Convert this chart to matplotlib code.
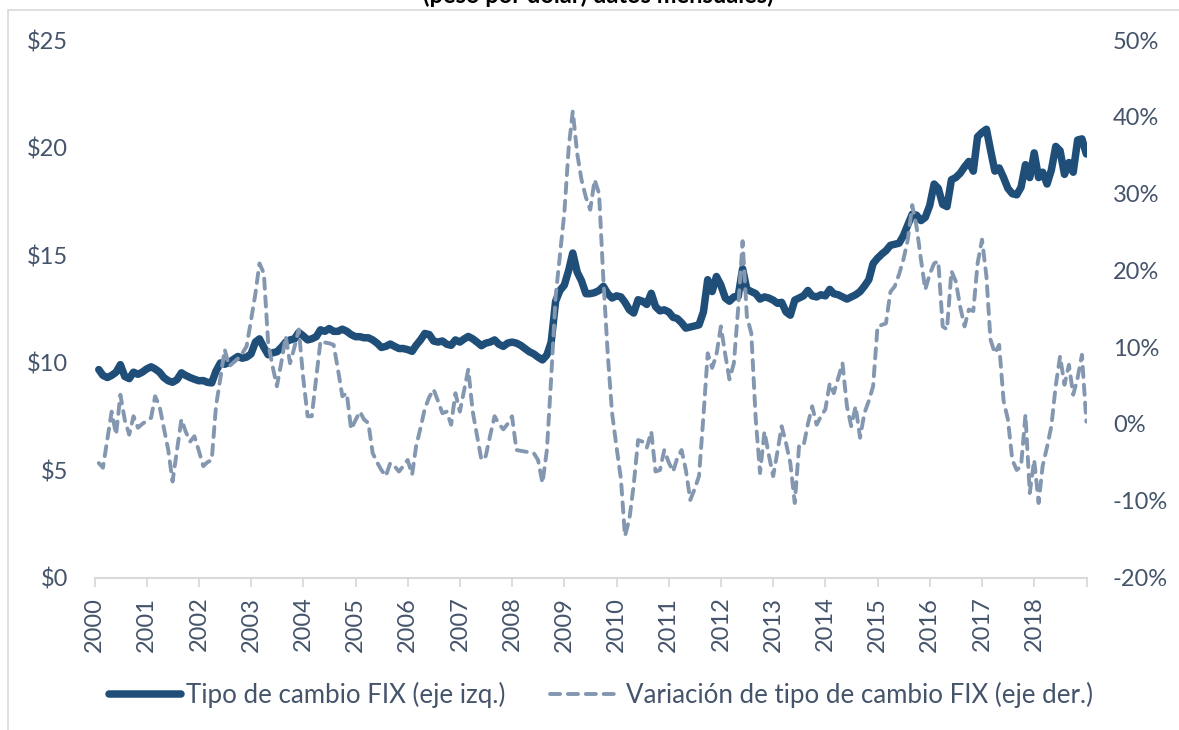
import matplotlib
matplotlib.use("Agg")
import matplotlib.pyplot as plt
from matplotlib.lines import Line2D
from matplotlib.patches import Rectangle
import pandas as pd
import datetime as dt

# ---------------- data (end-of-month values, Jan-2000 .. Dec-2018) ----------------
years = list(range(2000, 2019))
year_labels = [str(y) for y in years]

tipo_cambio = [  # peso por dólar (eje izq.)
    9.67, 9.40, 9.30, 9.40, 9.55, 9.90, 9.35, 9.25, 9.55, 9.45, 9.55, 9.70,
    9.80, 9.70, 9.55, 9.30, 9.15, 9.08, 9.20, 9.52, 9.40, 9.30, 9.22, 9.15,
    9.16, 9.08, 9.05, 9.60, 9.98, 9.92, 10.00, 10.15, 10.28, 10.20, 10.25, 10.40,
    10.95, 11.10, 10.70, 10.36, 10.45, 10.50, 10.70, 10.95, 11.05, 11.10, 11.40, 11.24,
    11.05, 11.10, 11.20, 11.52, 11.45, 11.58, 11.45, 11.45, 11.55, 11.45, 11.30, 11.20,
    11.20, 11.15, 11.15, 11.05, 10.90, 10.70, 10.75, 10.86, 10.75, 10.65, 10.65, 10.60,
    10.52, 10.80, 11.05, 11.35, 11.30, 11.00, 10.95, 11.00, 10.85, 10.80, 11.05, 10.95,
    11.10, 11.21, 11.10, 10.95, 10.78, 10.90, 10.95, 11.05, 10.85, 10.75, 10.90, 10.95,
    10.90, 10.80, 10.65, 10.50, 10.40, 10.25, 10.12, 10.35, 10.95, 12.85, 13.35, 13.60,
    14.30, 15.09, 14.20, 13.80, 13.20, 13.20, 13.25, 13.35, 13.54, 13.20, 13.00, 13.10,
    13.05, 12.80, 12.45, 12.30, 12.92, 12.85, 12.70, 13.22, 12.60, 12.40, 12.45, 12.35,
    12.10, 12.05, 11.85, 11.60, 11.65, 11.70, 11.75, 12.35, 13.85, 13.30, 14.00, 13.60,
    13.00, 12.85, 13.05, 13.07, 14.36, 13.40, 13.30, 13.20, 12.95, 13.05, 13.00, 12.90,
    12.75, 12.80, 12.35, 12.20, 12.90, 13.00, 13.10, 13.35, 13.10, 13.05, 13.15, 13.10,
    13.40, 13.20, 13.15, 13.05, 12.95, 13.05, 13.15, 13.30, 13.55, 13.85, 14.60, 14.85,
    15.05, 15.20, 15.45, 15.50, 15.55, 15.90, 16.40, 16.90, 16.85, 16.60, 16.75, 17.30,
    18.30, 18.10, 17.35, 17.25, 18.50, 18.60, 18.80, 19.10, 19.35, 18.90, 20.50, 20.70,
    20.85, 19.90, 18.90, 19.05, 18.60, 18.10, 17.85, 17.80, 18.15, 19.20, 18.60, 19.75,
    18.60, 18.85, 18.30, 18.95, 20.05, 19.85, 18.75, 19.30, 18.85, 20.35, 20.40, 19.70,
]

variacion = [  # variación anual, % (eje der.)
    -5.1, -5.7, -2.0, 1.6, -1.4, 3.8, 0.5, -1.4, 1.0, -0.5, 0.0, 0.4,
    0.8, 3.6, 2.3, -0.5, -3.4, -7.5, -3.4, 0.6, -1.0, -2.3, -1.6, -3.5,
    -5.5, -5.0, -4.7, 2.3, 6.0, 9.7, 7.5, 8.0, 8.5, 9.2, 10.1, 13.5,
    17.0, 20.9, 19.6, 10.5, 7.5, 4.9, 8.0, 11.4, 7.9, 10.0, 12.3, 6.0,
    1.0, 1.0, 6.0, 10.8, 10.6, 10.5, 10.3, 7.0, 3.6, 4.0, -0.7, 0.5,
    1.6, 0.6, 0.1, -3.8, -5.0, -6.0, -6.8, -5.1, -5.5, -6.2, -5.5, -4.7,
    -6.6, -2.9, -0.5, 2.0, 3.5, 4.5, 3.0, 1.4, 1.6, -0.1, 4.0, 1.6,
    4.5, 7.1, 1.6, -1.5, -4.7, -4.2, -1.5, 1.0, 0.0, -0.7, 0.0, 1.0,
    -3.4, -3.5, -3.6, -3.7, -3.8, -4.7, -7.7, -3.4, 6.0, 16.6, 22.0, 27.5,
    36.1, 40.7, 35.2, 31.8, 29.5, 27.9, 31.8, 30.0, 18.8, 9.0, 1.4, -3.0,
    -7.2, -14.6, -12.4, -8.0, -2.1, -2.3, -3.1, -1.0, -6.2, -6.0, -3.4, -5.0,
    -6.2, -4.5, -3.4, -6.0, -9.9, -8.5, -6.8, 1.0, 9.2, 7.3, 9.0, 12.7,
    9.0, 5.8, 7.9, 15.0, 23.8, 14.0, 11.8, 0.6, -6.4, -1.0, -4.0, -6.8,
    -3.5, -0.3, -2.5, -5.1, -10.3, -2.9, -2.9, 0.0, 2.3, -0.1, 1.0, 1.9,
    5.3, 4.0, 6.0, 7.9, 2.3, -0.3, 2.3, -1.8, 1.4, 3.0, 4.9, 12.7,
    12.9, 13.1, 17.2, 17.9, 19.5, 21.4, 24.0, 28.5, 25.7, 21.4, 17.5, 19.5,
    20.9, 21.2, 12.7, 12.3, 19.9, 18.6, 15.3, 12.7, 14.9, 14.7, 20.9, 24.0,
    19.2, 11.0, 9.2, 10.3, 3.0, 0.6, -4.7, -6.0, -5.5, 1.2, -9.0, -4.7,
    -10.3, -5.5, -3.0, -0.3, 5.0, 8.8, 5.1, 7.7, 3.8, 6.0, 9.0, 0.3,
]

left_ticks = [0, 5, 10, 15, 20, 25]
right_ticks = [-20, -10, 0, 10, 20, 30, 40, 50]

label_fix = "Tipo de cambio FIX (eje izq.)"
label_var = "Variación de tipo de cambio FIX (eje der.)"
title_text = "(peso por dólar) datos mensuales)"

# ---------------- style ----------------
plt.rcParams['font.family'] = ['Lato', 'DejaVu Sans']
TXT = '#44546A'
C_FIX = '#1F4E79'
C_VAR = '#8497B0'
GRID = '#D9D9D9'
FS = 17
FS_LEG = 18.6
LW_FIX = 5.4
LW_VAR = 2.8
DASH = (0, (2.6, 2.0))

try:
    dates = pd.date_range('2000-01-31', periods=len(tipo_cambio), freq='ME')
except Exception:
    dates = pd.date_range('2000-01-31', periods=len(tipo_cambio), freq='M')

W, H = 1179, 730
fig = plt.figure(figsize=(W / 100, H / 100), dpi=100)

x0, x1 = 94.5, 1086.5
y_top, y_bot = 40, 577.5
ax = fig.add_axes([x0 / W, 1 - y_bot / H, (x1 - x0) / W, (y_bot - y_top) / H])
ax2 = ax.twinx()

ax.plot(dates, tipo_cambio, color=C_FIX, lw=LW_FIX, solid_capstyle='round',
        solid_joinstyle='round')
ax2.plot(dates, variacion, color=C_VAR, lw=LW_VAR, linestyle=DASH,
         dash_capstyle='round', dash_joinstyle='round')

ax.set_xlim(dt.datetime(2000, 1, 1), dt.datetime(2019, 1, 1))
ax.set_ylim(0, 25)
ax2.set_ylim(-20, 50)

xt = [dt.datetime(y, 1, 1) for y in years] + [dt.datetime(2019, 1, 1)]
ax.set_xticks(xt)
ax.set_xticklabels(year_labels + [''], rotation=90, fontsize=FS, color=TXT)
ax.tick_params(axis='x', direction='out', length=6.3, width=1.3, color=GRID,
               pad=7.5)

ax.set_yticks(left_ticks)
ax.set_yticklabels([f'${v}' for v in left_ticks], fontsize=FS, color=TXT)
ax.tick_params(axis='y', length=0, pad=19)

ax2.set_yticks(right_ticks)
ax2.set_yticklabels([f'{v}%' for v in right_ticks], fontsize=FS, color=TXT)
ax2.tick_params(axis='y', length=0, pad=19)

for a in (ax, ax2):
    for s in ('top', 'left', 'right'):
        a.spines[s].set_visible(False)
ax2.spines['bottom'].set_visible(False)
ax.spines['bottom'].set_color(GRID)
ax.spines['bottom'].set_linewidth(1.5)

# legend
h1 = Line2D([], [], color=C_FIX, lw=LW_FIX, solid_capstyle='round')
h2 = Line2D([], [], color=C_VAR, lw=LW_VAR, linestyle=DASH,
            dash_capstyle='round')
leg = fig.legend([h1, h2], [label_fix, label_var], loc='center',
                 bbox_to_anchor=(601.5 / W, 1 - 695 / H), ncol=2, frameon=False,
                 fontsize=FS_LEG, handlelength=2.75, handletextpad=0.2,
                 columnspacing=1.75, borderaxespad=0)
for t in leg.get_texts():
    t.set_color(TXT)

# clipped title at very top (as in the reference)
fig.text(598 / W, 1 - 3 / H, title_text, ha='center', va='baseline',
         fontsize=17, fontweight='bold', color='black')

# chart frame (left and top edges visible)
fig.add_artist(Rectangle((8 / W, -0.05), 1.2, 1 - 9.5 / H + 0.05,
                         transform=fig.transFigure, fill=False,
                         edgecolor='#D9D9D9', lw=1.2))

fig.savefig('out.png', dpi=100)
